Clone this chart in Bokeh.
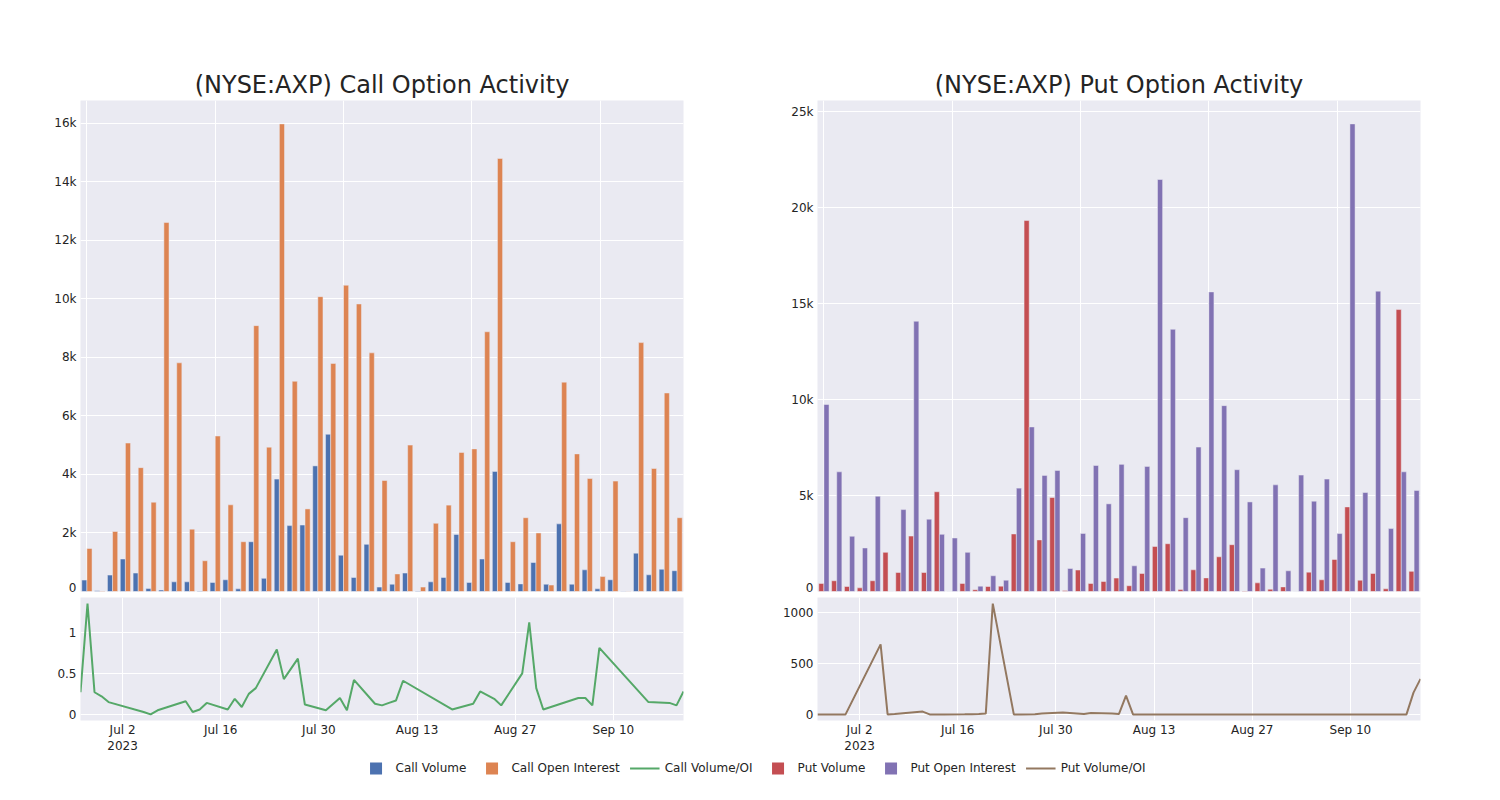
import pandas as pd
from bokeh.plotting import figure
from bokeh.layouts import column, row
from bokeh.models import Range1d, FixedTicker, Legend, LegendItem, ColumnDataSource
from bokeh.embed import file_html
from bokeh.resources import INLINE

# ---------------- data ----------------
dates = [
    "2023-06-26", "2023-06-27", "2023-06-28", "2023-06-29", "2023-06-30",
    "2023-07-05", "2023-07-06", "2023-07-07", "2023-07-11", "2023-07-12",
    "2023-07-13", "2023-07-14", "2023-07-17", "2023-07-18", "2023-07-19",
    "2023-07-20", "2023-07-21", "2023-07-24", "2023-07-25", "2023-07-27",
    "2023-07-28", "2023-07-31", "2023-08-02", "2023-08-03", "2023-08-04",
    "2023-08-07", "2023-08-08", "2023-08-09", "2023-08-10", "2023-08-11",
    "2023-08-18", "2023-08-21", "2023-08-22", "2023-08-24", "2023-08-25",
    "2023-08-28", "2023-08-29", "2023-08-30", "2023-08-31", "2023-09-05",
    "2023-09-06", "2023-09-07", "2023-09-08", "2023-09-15", "2023-09-18",
    "2023-09-19", "2023-09-20",
]

call_volume = [390, 25, 560, 1110, 630, 100, 50, 330, 330, 20,
               310, 400, 90, 1700, 450, 3840, 2250, 2270, 4290, 5370,
               1240, 480, 1610, 150, 250, 630, 15, 330, 480, 1950,
               310, 1110, 4100, 310, 260, 990, 250, 2310, 250, 740,
               90, 400, 10, 1310, 570, 760, 710]
call_open_interest = [1470, 20, 2050, 5070, 4230, 3050, 12600, 7810, 2130, 1050,
                      5310, 2960, 1700, 9080, 4930, 15970, 7180, 2820, 10070, 7790,
                      10460, 9820, 8150, 3790, 600, 5000, 150, 2330, 2950, 4750,
                      4870, 8870, 14790, 1700, 2520, 2000, 220, 7150, 4700, 3860,
                      510, 3770, 12, 8500, 4200, 6780, 2520]
call_ratio = [0.27, 1.35, 0.27, 0.22, 0.15, 0.03, 0.00, 0.05, 0.16, 0.03,
              0.06, 0.14, 0.06, 0.19, 0.09, 0.25, 0.32, 0.79, 0.43, 0.68,
              0.12, 0.05, 0.20, 0.05, 0.42, 0.13, 0.11, 0.14, 0.17, 0.41,
              0.06, 0.13, 0.28, 0.19, 0.11, 0.50, 1.12, 0.32, 0.06, 0.20,
              0.20, 0.11, 0.81, 0.15, 0.14, 0.11, 0.28]

put_volume = [420, 560, 260, 190, 560, 2040, 990, 2890, 990, 5200,
              0, 420, 90, 260, 280, 3000, 19340, 2690, 4900, 50,
              1120, 420, 520, 700, 300, 940, 2350, 2490, 100, 1130,
              710, 1810, 2440, 30, 450, 120, 240, 0, 1010, 610,
              1670, 4410, 590, 940, 140, 14700, 1050]
put_open_interest = [9750, 6240, 2880, 2270, 4970, 0, 4270, 14090, 3770, 2980,
                     2790, 2040, 280, 820, 590, 5390, 8580, 6050, 6310, 1200,
                     3030, 6570, 4570, 6630, 1340, 6520, 21480, 13670, 3850, 7530,
                     15620, 9690, 6350, 4670, 1220, 5560, 1080, 6070, 4710, 5860,
                     3020, 24380, 5160, 15660, 3280, 6240, 5270]
put_ratio = [0, 0, 0, 0, 0, 690, 0, 5, 28, 0,
             0, 0, 1, 2, 4, 8, 1092, 0, 0, 2,
             8, 18, 10, 3, 14, 10, 5, 185, 0, 0,
             0, 0, 0, 0, 0, 0, 0, 0, 0, 0,
             0, 0, 0, 0, 0, 215, 350]

call_bar_ticks = [0, 2000, 4000, 6000, 8000, 10000, 12000, 14000, 16000]
call_bar_labels = ["0", "2k", "4k", "6k", "8k", "10k", "12k", "14k", "16k"]
put_bar_ticks = [0, 5000, 10000, 15000, 20000, 25000]
put_bar_labels = ["0", "5k", "10k", "15k", "20k", "25k"]
call_ratio_ticks = [0, 0.5, 1]
call_ratio_labels = ["0", "0.5", "1"]
put_ratio_ticks = [0, 500, 1000]
put_ratio_labels = ["0", "500", "1000"]
date_ticks = ["2023-07-02", "2023-07-16", "2023-07-30", "2023-08-13", "2023-08-27", "2023-09-10"]
date_tick_labels = ["Jul 2\n2023", "Jul 16", "Jul 30", "Aug 13", "Aug 27", "Sep 10"]
category_grid = [0, 10, 20, 30, 40]

# ---------------- styles ----------------
FONT = "DejaVu Sans"
TXT = "#242424"
BG = "#EAEAF2"
C_BLUE, C_ORANGE, C_GREEN = "#4C72B0", "#DD8452", "#55A868"
C_RED, C_PURPLE, C_BROWN = "#C44E52", "#8172B3", "#937860"

dt = pd.to_datetime(dates)
n = len(dates)
src = ColumnDataSource(dict(
    idx_l=[i - 0.2 for i in range(n)],
    idx_r=[i + 0.2 for i in range(n)],
    date=dt,
    call_volume=call_volume, call_oi=call_open_interest, call_ratio=call_ratio,
    put_volume=put_volume, put_oi=put_open_interest, put_ratio=put_ratio,
))


def style(p):
    p.background_fill_color = BG
    p.border_fill_color = "white"
    p.outline_line_color = None
    for g in (p.xgrid, p.ygrid):
        g.grid_line_color = "white"
        g.grid_line_width = 1
    for ax in (p.xaxis, p.yaxis):
        ax.axis_line_color = None
        ax.major_tick_line_color = None
        ax.minor_tick_line_color = None
        ax.major_tick_out = 0
        ax.major_tick_in = 0
        ax.major_label_text_font = FONT
        ax.major_label_text_font_size = "12px"
        ax.major_label_text_color = TXT


def bar_fig(title, vol_col, oi_col, vals, ticks, labels, c1, c2, bl, br):
    top = max(vals) * 1.05
    p = figure(width=bl + 603 + br, height=594, x_range=Range1d(-0.5, n - 0.5), y_range=Range1d(0, top),
               output_backend="svg", toolbar_location=None,
               min_border_left=bl, min_border_right=br, min_border_top=100, min_border_bottom=3)
    style(p)
    p.title.text = title
    p.title.align = "center"
    p.title.text_font = FONT
    p.title.text_font_size = "24px"
    p.title.text_font_style = "normal"
    p.title.text_color = TXT
    p.title.standoff = 3
    p.xaxis.visible = False
    p.xgrid.ticker = FixedTicker(ticks=category_grid)
    p.yaxis.ticker = FixedTicker(ticks=ticks)
    p.yaxis.major_label_overrides = dict(zip(ticks, labels))
    p.yaxis.major_label_standoff = 4
    p.vbar(x="idx_l", top=vol_col, width=0.4, source=src, fill_color=c1, line_color=BG, line_width=0.5)
    p.vbar(x="idx_r", top=oi_col, width=0.4, source=src, fill_color=c2, line_color=BG, line_width=0.5)
    return p


def line_fig(col, vals, ticks, labels, color, bl, br):
    lo, hi = min(vals), max(vals)
    pad = (hi - lo) * 0.055
    p = figure(width=bl + 603 + br, height=162, x_axis_type="datetime",
               x_range=Range1d(dt[0], dt[-1]), y_range=Range1d(lo - pad, hi + pad),
               output_backend="svg", toolbar_location=None,
               min_border_left=bl, min_border_right=br, min_border_top=3, min_border_bottom=36)
    style(p)
    tick_ms = [pd.Timestamp(d).value / 1e6 for d in date_ticks]
    p.xaxis.ticker = FixedTicker(ticks=tick_ms)
    p.xaxis.major_label_overrides = dict(zip(tick_ms, date_tick_labels))
    p.xaxis.major_label_standoff = 2
    p.yaxis.ticker = FixedTicker(ticks=ticks)
    p.yaxis.major_label_overrides = dict(zip(ticks, labels))
    p.yaxis.major_label_standoff = 4
    p.line(x="date", y=col, source=src, line_color=color, line_width=2)
    return p


bar_call = bar_fig("(NYSE:AXP) Call Option Activity", "call_volume", "call_oi",
                   call_open_interest, call_bar_ticks, call_bar_labels, C_BLUE, C_ORANGE, 80, 67)
line_call = line_fig("call_ratio", call_ratio, call_ratio_ticks, call_ratio_labels, C_GREEN, 80, 67)
bar_put = bar_fig("(NYSE:AXP) Put Option Activity", "put_volume", "put_oi",
                  put_open_interest, put_bar_ticks, put_bar_labels, C_RED, C_PURPLE, 67, 72)
line_put = line_fig("put_ratio", put_ratio, put_ratio_ticks, put_ratio_labels, C_BROWN, 67, 72)

# ---------------- legend strip (renderers kept out of view, only legend shown) ----------------
leg = figure(width=1492, height=24, x_range=Range1d(-3, -2), y_range=Range1d(-3, -2),
             output_backend="svg", toolbar_location=None,
             min_border_left=14, min_border_right=0, min_border_top=0, min_border_bottom=0)
leg.xaxis.visible = False
leg.yaxis.visible = False
leg.xgrid.visible = False
leg.ygrid.visible = False
leg.outline_line_color = None
leg.background_fill_color = "white"
r1 = leg.scatter(x="idx_l", y="call_volume", source=src, marker="square", size=12, fill_color=C_BLUE, line_color=None)
r2 = leg.scatter(x="idx_r", y="call_oi", source=src, marker="square", size=12, fill_color=C_ORANGE, line_color=None)
r3 = leg.line(x="idx_l", y="call_ratio", source=src, line_color=C_GREEN, line_width=2)
r4 = leg.scatter(x="idx_l", y="put_volume", source=src, marker="square", size=12, fill_color=C_RED, line_color=None)
r5 = leg.scatter(x="idx_r", y="put_oi", source=src, marker="square", size=12, fill_color=C_PURPLE, line_color=None)
r6 = leg.line(x="idx_l", y="put_ratio", source=src, line_color=C_BROWN, line_width=2)
legend = Legend(items=[
    LegendItem(label="Call Volume", renderers=[r1]),
    LegendItem(label="Call Open Interest", renderers=[r2]),
    LegendItem(label="Call Volume/OI", renderers=[r3]),
    LegendItem(label="Put Volume", renderers=[r4]),
    LegendItem(label="Put Open Interest", renderers=[r5]),
    LegendItem(label="Put Volume/OI", renderers=[r6]),
], orientation="horizontal", location="center",
    border_line_color=None, background_fill_alpha=0,
    label_text_font=FONT, label_text_font_size="12px", label_text_color=TXT,
    glyph_width=30, glyph_height=30, label_standoff=5, spacing=10, padding=0, margin=0)
leg.add_layout(legend, "center")

layout = column(row(column(bar_call, line_call), column(bar_put, line_put)), leg)

open("out.html", "w").write(file_html(layout, INLINE))
